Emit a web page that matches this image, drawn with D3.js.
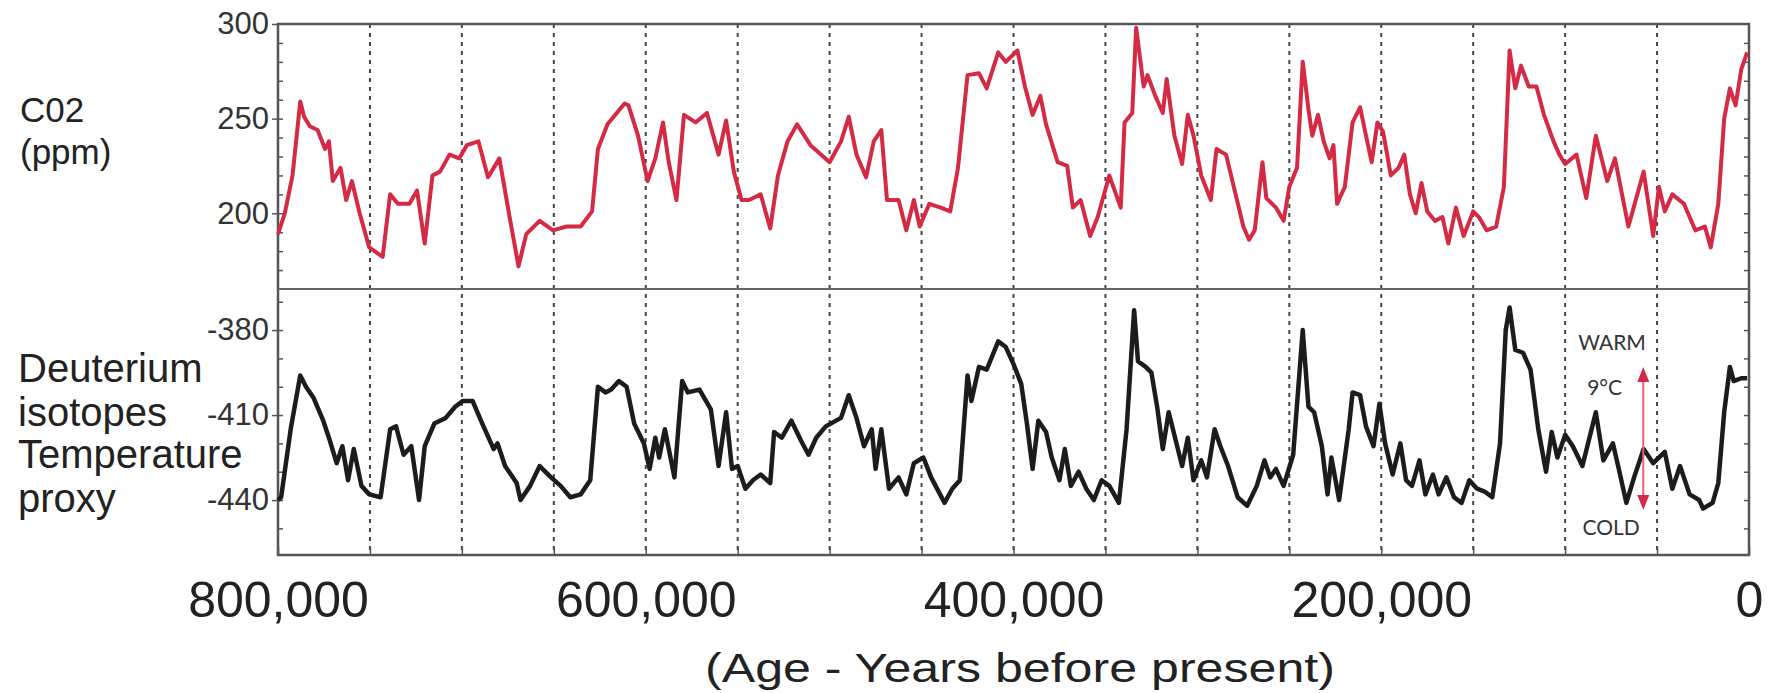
<!DOCTYPE html>
<html lang="en">
<head>
  <meta charset="UTF-8">
  <title>CO2 and Deuterium - 800,000 years</title>
  <script src="https://d3js.org/d3.v7.min.js"></script>
  <style>
    body { margin: 0; background: #fff; }
    svg { display: block; font-family: "Liberation Sans", Arial, sans-serif; }
  </style>
</head>
<body>
  <svg id="chart" width="1771" height="693"></svg>
  <script>
    // age in thousands of years before present, CO2 in ppm
    const co2Age = [800, 796.3, 792.1, 787.9, 785.8, 782.7, 778.5, 774.4, 772.3, 770.2, 766, 762.9, 759.8, 755.6, 750.4, 743.1, 739, 734.8, 728.5, 724.4, 720.2, 716, 711.9, 706.7, 701.5, 697.3, 691, 685.8, 682.7, 679.6, 674.4, 669.2, 665, 657.7, 650.4, 643.1, 635.4, 629.2, 626, 620.8, 611.5, 609.4, 604.2, 599, 594.8, 590.6, 587.5, 583.3, 579.2, 572.9, 566.7, 560.4, 556.3, 552.1, 547.9, 543.8, 537.5, 532.3, 528.1, 522.9, 517.7, 510.4, 500, 493.8, 489.6, 485.4, 480.2, 476, 471.9, 468.8, 462.5, 458.3, 454.2, 451, 445.8, 439.6, 434.4, 430.2, 425, 418.8, 414.6, 408.3, 404.2, 397.9, 393.8, 389.6, 385.4, 382.3, 376, 370.8, 367.7, 363.5, 358.3, 354.2, 347.9, 341.7, 339.6, 335.4, 333.3, 329.2, 327.1, 322.9, 318.8, 316.7, 312.5, 308.3, 305.2, 302.1, 297.9, 292.7, 289.6, 284.4, 279.2, 275, 271.9, 268.8, 264.6, 262.5, 257.3, 253.1, 250, 245.8, 242.7, 239.6, 237.5, 234.4, 231.3, 228.1, 226, 224, 219.8, 215.6, 211.5, 208.3, 205.2, 202.1, 199, 194.8, 190.6, 187.5, 184.4, 181.3, 178.1, 175, 170.8, 166.7, 163.5, 159.4, 155.2, 150, 146.9, 142.7, 137.5, 133.3, 130.2, 127.1, 124, 119.8, 115.6, 111.5, 106.3, 103.1, 100, 93.8, 88.5, 83.3, 77.1, 72.9, 65.6, 57.3, 52.1, 49, 45.8, 41.7, 35.4, 29.2, 24, 20.8, 16.7, 13.5, 10.4, 7.3, 4.2, 1];
    const co2Ppm = [189, 200, 220, 259, 251, 246, 244, 234, 238, 217, 224, 207, 217, 200, 182, 177, 210, 205, 205, 212, 184, 220, 222, 231, 229, 236, 238, 219, 224, 229, 200, 172, 189, 196, 191, 193, 193, 201, 234, 247, 258, 257, 241, 217, 229, 248, 227, 207, 252, 248, 253, 231, 249, 222, 207, 207, 210, 192, 220, 238, 247, 236, 227, 238, 251, 231, 219, 238, 244, 207, 207, 191, 207, 193, 205, 203, 201, 224, 273, 274, 266, 285, 280, 286, 267, 252, 262, 247, 227, 225, 203, 207, 188, 198, 220, 203, 248, 253, 298, 267, 273, 262, 253, 271, 241, 226, 252, 241, 220, 207, 234, 231, 210, 193, 186, 191, 227, 208, 203, 196, 214, 224, 280, 255, 241, 252, 238, 229, 236, 205, 214, 248, 256, 241, 227, 248, 243, 220, 224, 231, 210, 200, 216, 201, 196, 198, 184, 203, 188, 201, 198, 191, 193, 214, 286, 266, 278, 267, 267, 252, 238, 231, 226, 231, 208, 241, 217, 229, 193, 222, 188, 214, 201, 210, 205, 191, 193, 182, 205, 250, 266, 257, 276, 285];

    // deuterium (per mil) temperature proxy
    const dAge = [800, 798.3, 793.1, 787.9, 784.8, 780.6, 775.4, 772.3, 768.1, 765, 761.9, 758.8, 754.6, 750.4, 744.2, 739, 735.8, 731.7, 727.5, 723.3, 720.2, 715, 708.8, 703.5, 699.4, 694.2, 688.9, 682.7, 680.6, 676.5, 670.2, 668.1, 662.9, 657.7, 651.5, 646.3, 641, 635.4, 630.2, 626, 621.9, 618.8, 614.6, 610.4, 606.3, 601, 597.9, 594.8, 592.7, 589.6, 584.4, 580.2, 577.1, 570.8, 564.6, 560.4, 556.3, 553.1, 550, 545.8, 541.7, 537.5, 532.3, 530.2, 526, 520.8, 515.6, 511.5, 507.3, 502.1, 493.8, 489.6, 485.4, 481.3, 477.1, 475, 471.9, 467.7, 462.5, 458.3, 454.2, 449, 444.8, 437.5, 433.3, 429.2, 425, 422.9, 418.8, 414.6, 408.3, 404.2, 400, 395.8, 392.7, 389.6, 386.5, 382.3, 379.2, 375, 372.1, 368.8, 364.6, 360.4, 356.3, 352.1, 347.9, 342.7, 338.5, 334.4, 332.3, 328.1, 325, 321.9, 318.8, 315.6, 308.3, 305.2, 302.1, 297.9, 294.8, 290.6, 287.5, 283.3, 278.1, 272.9, 267.7, 263.5, 260.4, 257.3, 253.1, 247.9, 242.7, 239.6, 236.5, 232.3, 229.2, 227.1, 222.9, 217.7, 215.6, 211.5, 208.3, 204.2, 201, 197.9, 193.8, 189.6, 186.5, 183.3, 179.2, 176, 171.9, 168.8, 164.6, 160.4, 156.3, 152.1, 147.9, 143.8, 139.6, 135.4, 132.3, 130.2, 127.1, 122.9, 118.8, 114.6, 110.4, 107.3, 104.2, 100, 95.8, 90.6, 83.3, 79.2, 74, 70.8, 66.7, 62.5, 57.3, 52.1, 45.8, 41.7, 37.5, 32.3, 27.1, 25, 19.8, 16.7, 13.5, 10.4, 8.3, 4.2, 1];
    const dValue = [-440, -439, -415, -396, -400, -404, -412, -418, -427, -421, -433, -422, -435, -438, -439, -415, -414, -424, -421, -440, -421, -413, -411, -407, -405, -405, -413, -422, -420, -428, -434, -440, -435, -428, -432, -435, -439, -438, -433, -400, -402, -401, -398, -400, -413, -420, -429, -418, -425, -415, -432, -398, -402, -401, -408, -428, -409, -429, -428, -436, -433, -431, -434, -416, -418, -412, -419, -424, -418, -414, -411, -403, -411, -421, -415, -429, -415, -436, -432, -438, -427, -425, -432, -441, -436, -433, -396, -405, -393, -394, -384, -386, -392, -399, -413, -429, -412, -416, -425, -433, -422, -435, -430, -436, -440, -433, -435, -441, -415, -373, -391, -393, -395, -407, -422, -409, -428, -418, -433, -426, -432, -415, -421, -428, -439, -442, -435, -426, -432, -429, -435, -424, -380, -407, -409, -421, -438, -425, -440, -415, -402, -403, -414, -421, -406, -420, -431, -420, -433, -435, -426, -438, -431, -438, -432, -439, -441, -433, -436, -437, -439, -420, -380, -372, -387, -388, -394, -415, -430, -416, -425, -417, -421, -428, -409, -426, -420, -429, -441, -432, -422, -427, -423, -436, -428, -438, -440, -443, -441, -434, -409, -393, -398, -397, -397];

    const ageLabels = [800, 600, 400, 200, 0];
    const co2Ticks = [200, 250, 300];
    const dTicks = [-380, -410, -440];

    const svg = d3.select("#chart");
    const plotLeft = 278, plotRight = 1749, plotTop = 24, plotMid = 289, plotBottom = 555;

    const x = d3.scaleLinear().domain([800, 0]).range([plotLeft, plotRight]);
    const yCo2 = d3.scaleLinear().domain([160, 300]).range([plotMid, plotTop]);
    const yD = d3.scaleLinear().domain([-459.4, -365.5]).range([plotBottom, plotMid]);

    svg.append("rect").attr("width", 1771).attr("height", 693).attr("fill", "#fff");

    // dotted guides every 50,000 years
    svg.append("g")
      .selectAll("line")
      .data(d3.range(50, 800, 50))
      .enter().append("line")
      .attr("x1", d => x(d)).attr("x2", d => x(d))
      .attr("y1", plotTop).attr("y2", plotBottom)
      .attr("stroke", "#444")
      .attr("stroke-width", 2)
      .attr("stroke-dasharray", "4,5");

    // minor ticks (inside) on both sides
    function minorTicks(scale, values) {
      svg.append("g").attr("transform", `translate(${plotLeft},0)`)
        .call(d3.axisLeft(scale).tickValues(values).tickSize(-5).tickFormat(""))
        .call(g => g.select(".domain").remove())
        .selectAll("line").attr("stroke", "#555").attr("stroke-width", 1.5);
      svg.append("g").attr("transform", `translate(${plotRight},0)`)
        .call(d3.axisRight(scale).tickValues(values).tickSize(-5).tickFormat(""))
        .call(g => g.select(".domain").remove())
        .selectAll("line").attr("stroke", "#555").attr("stroke-width", 1.5);
    }
    minorTicks(yCo2, d3.range(170, 300, 10));
    minorTicks(yD, d3.range(-450, -365, 10));

    // labelled left axes
    function labelAxis(scale, values) {
      const g = svg.append("g").attr("transform", `translate(${plotLeft},0)`)
        .call(d3.axisLeft(scale).tickValues(values).tickSize(6).tickPadding(3).tickFormat(d => String(d)));
      g.select(".domain").remove();
      g.selectAll("line").attr("stroke", "#555").attr("stroke-width", 1.5);
      g.selectAll("text")
        .attr("font-family", "Liberation Sans, Arial, sans-serif")
        .attr("font-size", 31)
        .attr("fill", "#333");
    }
    labelAxis(yCo2, co2Ticks);
    labelAxis(yD, dTicks);

    // bottom ticks and age labels
    svg.append("g").attr("transform", `translate(0,${plotBottom})`)
      .call(d3.axisBottom(x).tickValues(d3.range(0, 801, 50)).tickSize(-8).tickFormat(""))
      .call(g => g.select(".domain").remove())
      .selectAll("line").attr("stroke", "#555").attr("stroke-width", 1.5);

    const xLab = svg.append("g").attr("transform", `translate(0,${plotBottom})`)
      .call(d3.axisBottom(x).tickValues(ageLabels).tickSize(0).tickPadding(26)
        .tickFormat(d => d3.format(",")(d * 1000)));
    xLab.select(".domain").remove();
    xLab.selectAll("text")
      .attr("font-family", "Liberation Sans, Arial, sans-serif")
      .attr("font-size", 50)
      .attr("fill", "#222");

    // frame
    svg.append("rect")
      .attr("x", plotLeft).attr("y", plotTop)
      .attr("width", plotRight - plotLeft).attr("height", plotBottom - plotTop)
      .attr("fill", "none").attr("stroke", "#555").attr("stroke-width", 2.5);
    svg.append("line")
      .attr("x1", plotLeft).attr("x2", plotRight).attr("y1", plotMid).attr("y2", plotMid)
      .attr("stroke", "#666").attr("stroke-width", 2);

    // series
    const co2Data = co2Age.map((a, i) => ({ age: a, v: co2Ppm[i] }));
    const dData = dAge.map((a, i) => ({ age: a, v: dValue[i] }));

    svg.append("path")
      .datum(co2Data)
      .attr("fill", "none")
      .attr("stroke", "#d42a44")
      .attr("stroke-width", 4)
      .attr("stroke-linejoin", "round")
      .attr("d", d3.line().x(d => x(d.age)).y(d => yCo2(d.v)));

    svg.append("path")
      .datum(dData)
      .attr("fill", "none")
      .attr("stroke", "#1c1c1c")
      .attr("stroke-width", 4.5)
      .attr("stroke-linejoin", "round")
      .attr("d", d3.line().x(d => x(d.age)).y(d => yD(d.v)));

    // warm / cold annotation
    const ax = x(57.5);
    const yTop = yD(-393), yBot = yD(-443.5);
    svg.append("line")
      .attr("x1", ax).attr("x2", ax).attr("y1", yTop + 10).attr("y2", yBot - 10)
      .attr("stroke", "#e8607a").attr("stroke-width", 2);
    svg.append("path")
      .attr("d", `M${ax},${yTop} L${ax - 6},${yTop + 15} L${ax + 6},${yTop + 15} Z`)
      .attr("fill", "#d42a4a");
    svg.append("path")
      .attr("d", `M${ax},${yBot} L${ax - 6},${yBot - 15} L${ax + 6},${yBot - 15} Z`)
      .attr("fill", "#d42a4a");

    const note = svg.append("g")
      .attr("font-family", "Lato, sans-serif")
      .attr("font-size", 21)
      .attr("fill", "#333")
      .attr("text-anchor", "middle");
    note.append("text").attr("x", x(74.5)).attr("y", 350).text("WARM");
    note.append("text").attr("x", x(78.5)).attr("y", 395).text("9°C");
    note.append("text").attr("x", x(75)).attr("y", 535).text("COLD");

    // side labels
    const side = svg.append("g")
      .attr("font-family", "Liberation Sans, Arial, sans-serif")
      .attr("fill", "#222");
    side.append("text").attr("x", 20).attr("y", 122).attr("font-size", 35).text("C02");
    side.append("text").attr("x", 20).attr("y", 164).attr("font-size", 35).text("(ppm)");
    side.append("text").attr("x", 18).attr("y", 382).attr("font-size", 40).text("Deuterium");
    side.append("text").attr("x", 18).attr("y", 426).attr("font-size", 40).text("isotopes");
    side.append("text").attr("x", 18).attr("y", 468).attr("font-size", 40).text("Temperature");
    side.append("text").attr("x", 18).attr("y", 512).attr("font-size", 40).text("proxy");

    svg.append("text")
      .attr("x", 1020).attr("y", 682)
      .attr("text-anchor", "middle")
      .attr("font-family", "Liberation Sans, Arial, sans-serif")
      .attr("font-size", 41)
      .attr("textLength", 630)
      .attr("lengthAdjust", "spacingAndGlyphs")
      .attr("fill", "#222")
      .text("(Age - Years before present)");
  </script>
</body>
</html>
